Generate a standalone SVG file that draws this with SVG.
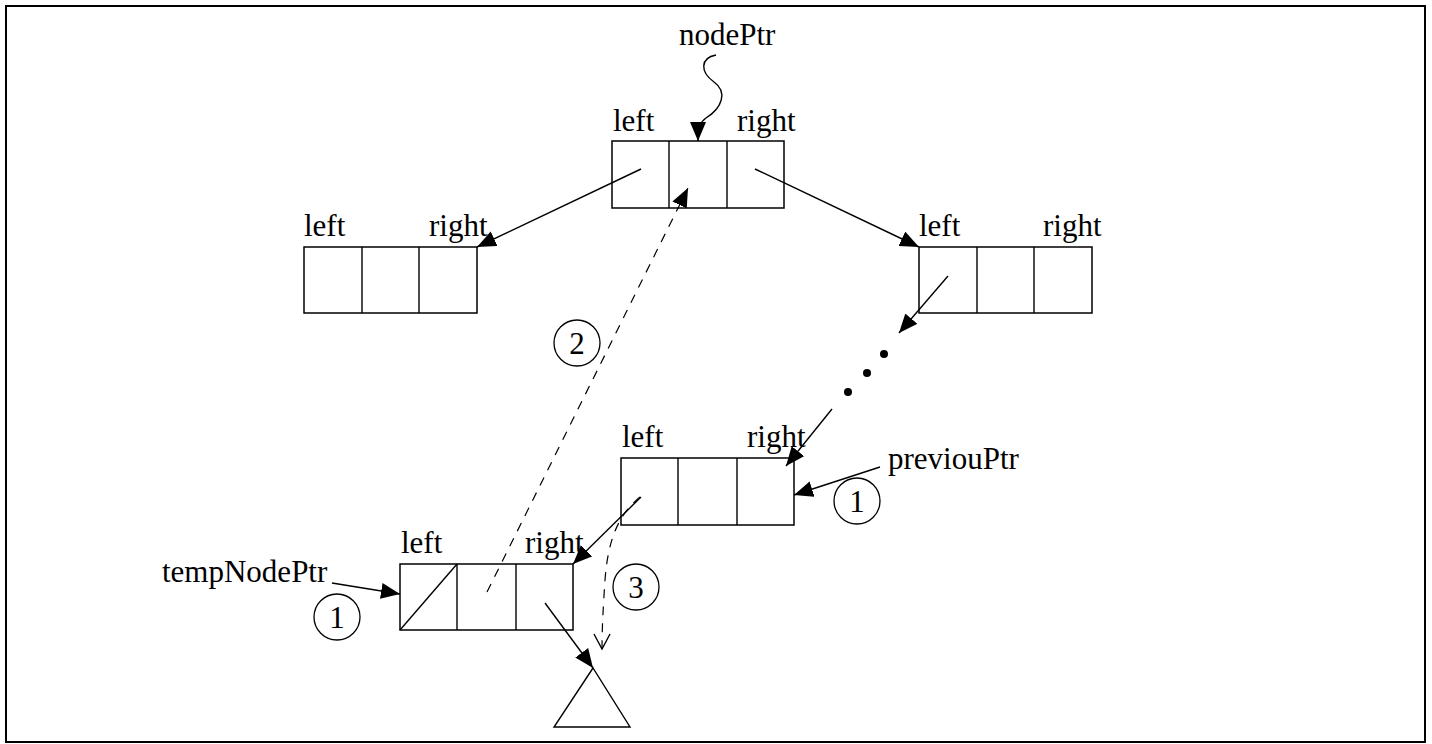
<svg xmlns="http://www.w3.org/2000/svg" width="1432" height="744" viewBox="0 0 1432 744">
<style>
text{font-family:"Liberation Serif","Times New Roman",serif;font-size:31px;fill:#000}
.box{fill:#fff;stroke:#000;stroke-width:1.5}
.ln{fill:none;stroke:#000;stroke-width:1.4}
.dash{fill:none;stroke:#000;stroke-width:1.2;stroke-dasharray:9 8}
.circ{fill:none;stroke:#000;stroke-width:1.3}
</style>
<defs>
<marker id="ah" markerUnits="userSpaceOnUse" markerWidth="22" markerHeight="18" refX="19" refY="8" orient="auto">
<path d="M0,0 L19,8 L0,16 z" fill="#000"/>
</marker>
</defs>
<rect x="6" y="6" width="1419" height="736" fill="#fff" stroke="#000" stroke-width="2"/>

<g id="node-top">
<rect class="box" x="612" y="141" width="172" height="67"/>
<line class="ln" x1="669" y1="141" x2="669" y2="208"/>
<line class="ln" x1="727" y1="141" x2="727" y2="208"/>
<text x="613" y="131">left</text>
<text x="737" y="131">right</text>
</g>
<g id="node-left">
<rect class="box" x="304" y="247" width="173" height="66"/>
<line class="ln" x1="362" y1="247" x2="362" y2="313"/>
<line class="ln" x1="419" y1="247" x2="419" y2="313"/>
<text x="304" y="236">left</text>
<text x="429" y="236">right</text>
</g>
<g id="node-right">
<rect class="box" x="919" y="247" width="173" height="66"/>
<line class="ln" x1="977" y1="247" x2="977" y2="313"/>
<line class="ln" x1="1034" y1="247" x2="1034" y2="313"/>
<text x="919" y="236">left</text>
<text x="1043" y="236">right</text>
</g>
<g id="node-mid">
<rect class="box" x="621" y="458" width="173" height="67"/>
<line class="ln" x1="678" y1="458" x2="678" y2="525"/>
<line class="ln" x1="737" y1="458" x2="737" y2="525"/>
<text x="622" y="447">left</text>
<text x="747" y="447">right</text>
</g>
<g id="node-bottom">
<rect class="box" x="400" y="564" width="173" height="66"/>
<line class="ln" x1="457" y1="564" x2="457" y2="630"/>
<line class="ln" x1="516" y1="564" x2="516" y2="630"/>
<line class="ln" x1="400" y1="630" x2="457" y2="564"/>
<text x="401" y="553">left</text>
<text x="525" y="553">right</text>
</g>
<g id="null-triangle">
<polygon class="ln" points="593,668 554,727 630,727"/>
</g>
<g id="labels">
<text x="679" y="45">nodePtr</text>
<text x="162" y="582">tempNodePtr</text>
<text x="888" y="469">previouPtr</text>
</g>
<g id="dots">
<circle cx="884" cy="354" r="4"/>
<circle cx="867" cy="373" r="4"/>
<circle cx="848" cy="392" r="4"/>
</g>
<g id="steps">
<circle class="circ" cx="577" cy="343" r="23"/>
<text x="577" y="354" text-anchor="middle">2</text>
<circle class="circ" cx="857" cy="501" r="23"/>
<text x="857" y="512" text-anchor="middle">1</text>
<circle class="circ" cx="337" cy="617" r="23"/>
<text x="337" y="628" text-anchor="middle">1</text>
<circle class="circ" cx="636" cy="587" r="23"/>
<text x="636" y="598" text-anchor="middle">3</text>
</g>
<g id="connectors">
<path class="ln" d="M716,55 C700,58 700,72 714,82 C728,92 722,108 706,118 C700,122 698,128 698,141" marker-end="url(#ah)"/>
<line class="ln" x1="641" y1="169" x2="477" y2="247" marker-end="url(#ah)"/>
<line class="ln" x1="755" y1="169" x2="919" y2="247" marker-end="url(#ah)"/>
<line class="ln" x1="948" y1="276" x2="899" y2="333" marker-end="url(#ah)"/>
<line class="ln" x1="832" y1="409" x2="786" y2="466" marker-end="url(#ah)"/>
<line class="ln" x1="880" y1="467" x2="794" y2="495" marker-end="url(#ah)"/>
<line class="ln" x1="641" y1="497" x2="573" y2="564" marker-end="url(#ah)"/>
<line class="ln" x1="332" y1="583" x2="400" y2="594" marker-end="url(#ah)"/>
<line class="ln" x1="545" y1="603" x2="593" y2="668" marker-end="url(#ah)"/>
<line class="dash" x1="487" y1="592" x2="688" y2="188" marker-end="url(#ah)"/>
<path class="dash" d="M640,497 C618,515 608,540 605,580 C603,610 602,630 602,648"/>
<path class="ln" d="M594,634 L602,649 L610,634"/>
</g>
</svg>
